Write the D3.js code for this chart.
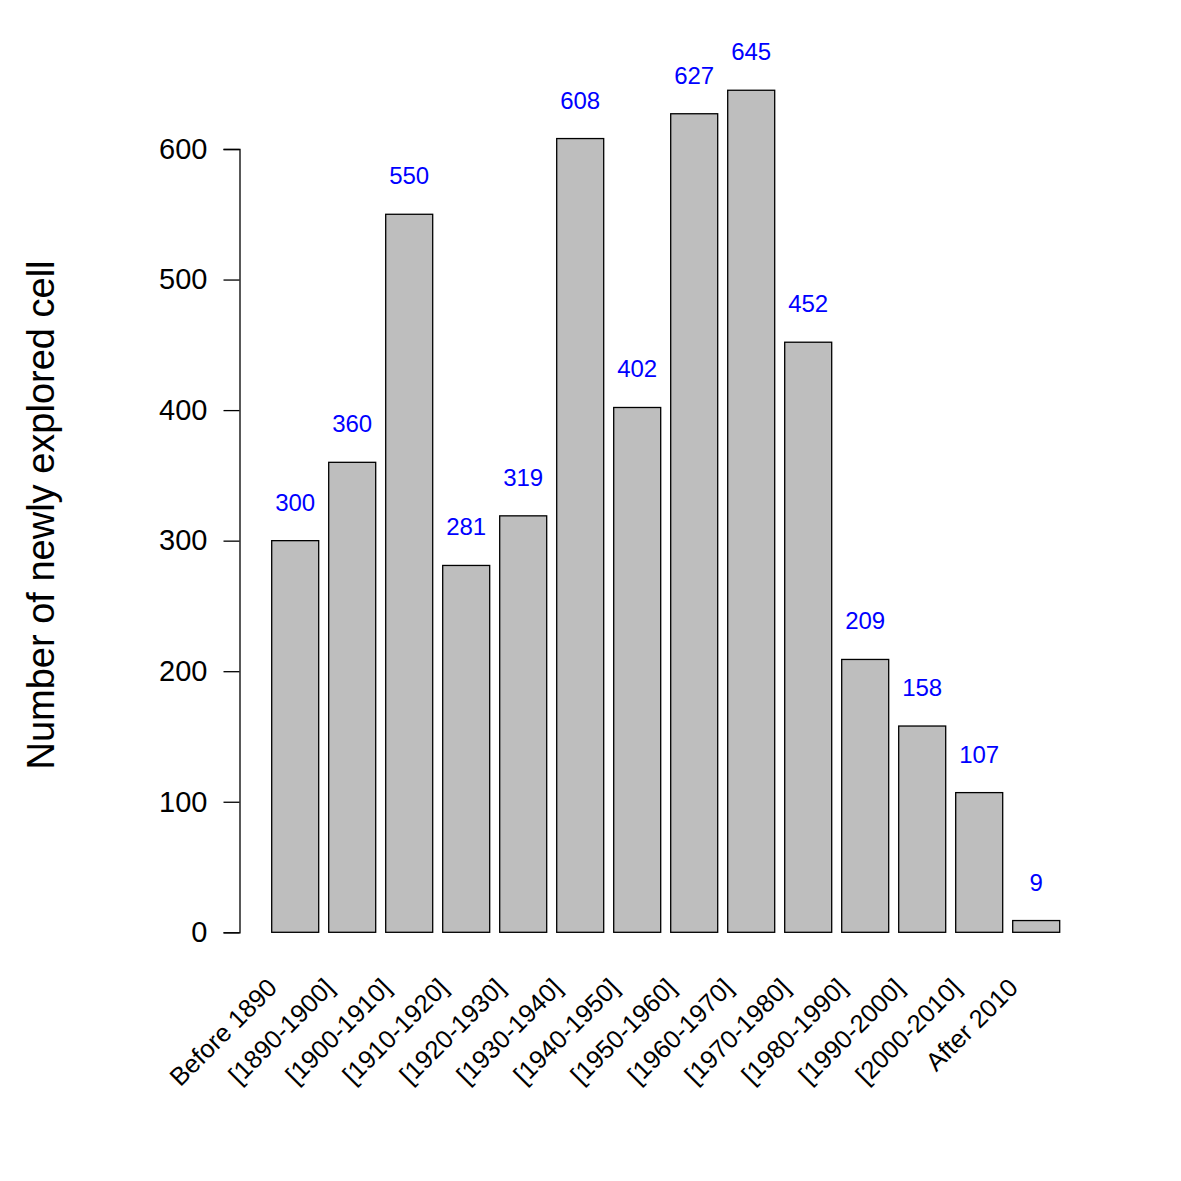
<!DOCTYPE html>
<html>
<head>
<meta charset="utf-8">
<script src="https://cdn.jsdelivr.net/npm/d3@7"></script>
<style>
  body { margin: 0; background: #fff; }
  svg { display: block; font-family: Arial, 'Liberation Sans', sans-serif; }
</style>
</head>
<body>
<svg id="chart" width="1181" height="1181"></svg>
<script>
// Data
const categories = ['Before 1890', '[1890-1900]', '[1900-1910]', '[1910-1920]', '[1920-1930]',
  '[1930-1940]', '[1940-1950]', '[1950-1960]', '[1960-1970]', '[1970-1980]',
  '[1980-1990]', '[1990-2000]', '[2000-2010]', 'After 2010']
const counts = [300, 360, 550, 281, 319, 608, 402, 627, 645, 452, 209, 158, 107, 9]
const yTicks = [0, 100, 200, 300, 400, 500, 600]
const yTitle = 'Number of newly explored cell'

const svg = d3.select('#chart')

// Scales
const x = d3.scaleBand()
  .domain(categories)
  .range([266.7, 1064.7])
  .paddingInner(0.1754)
  .paddingOuter(0.0877)

const y = d3.scaleLinear()
  .domain([0, 600])
  .range([932.3, 149])

// Bars
svg.append('g')
  .selectAll('rect')
  .data(categories)
  .enter().append('rect')
  .attr('x', function (d) { return x(d) })
  .attr('y', function (d, i) { return y(counts[i]) })
  .attr('width', x.bandwidth())
  .attr('height', function (d, i) { return y(0) - y(counts[i]) })
  .attr('fill', '#bebebe')
  .attr('stroke', '#000')
  .attr('stroke-width', 1.3)

// Value labels above bars
svg.append('g')
  .selectAll('text')
  .data(categories)
  .enter().append('text')
  .attr('x', function (d) { return x(d) + x.bandwidth() / 2 })
  .attr('y', function (d, i) { return y(counts[i]) - 30 })
  .attr('text-anchor', 'middle')
  .attr('fill', '#0000ff')
  .attr('font-size', 24)
  .text(function (d, i) { return counts[i] })

// Y-axis
const yAxis = svg.append('g')
  .attr('transform', 'translate(239.5,0)')
  .call(d3.axisLeft(y).tickValues(yTicks).tickSize(16).tickPadding(16))
yAxis.select('.domain').attr('stroke', '#000').attr('stroke-width', 1.3)
yAxis.selectAll('.tick line').attr('stroke', '#000').attr('stroke-width', 1.3)
yAxis.selectAll('.tick text')
  .attr('font-size', 29)
  .attr('font-family', 'Arial, Liberation Sans, sans-serif')
  .attr('fill', '#000')

// Rotated category labels
svg.append('g')
  .selectAll('text')
  .data(categories)
  .enter().append('text')
  .attr('transform', function (d) {
    return 'translate(' + (x(d) + x.bandwidth() / 2 - 23) + ',983) rotate(-45)'
  })
  .attr('text-anchor', 'end')
  .attr('dy', '0.35em')
  .attr('font-size', 25.5)
  .attr('fill', '#000')
  .text(function (d) { return d })

// Y-axis title
svg.append('text')
  .attr('transform', 'translate(54,515) rotate(-90)')
  .attr('text-anchor', 'middle')
  .attr('font-size', 38)
  .attr('fill', '#000')
  .text(yTitle)
</script>
</body>
</html>
